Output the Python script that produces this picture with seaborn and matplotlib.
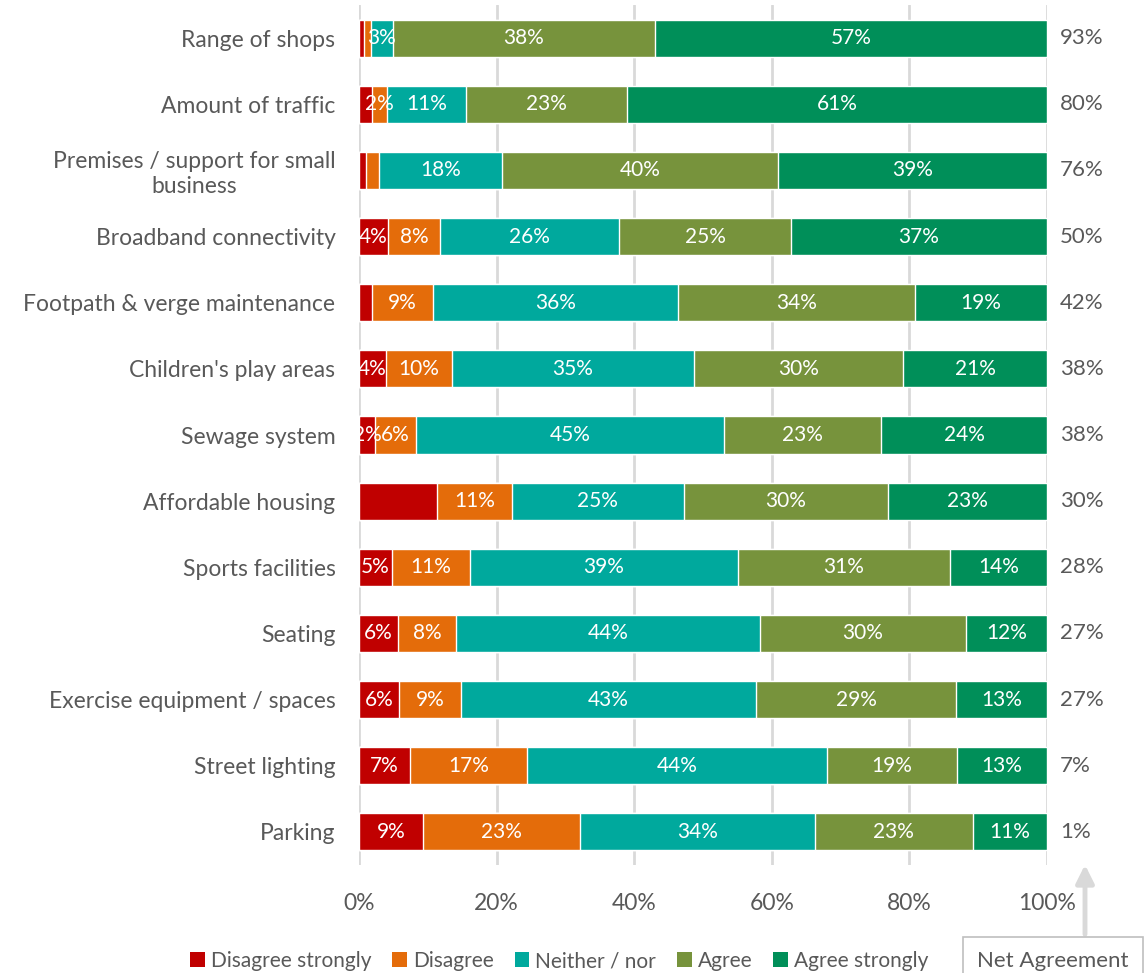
import matplotlib
matplotlib.use("Agg")
import matplotlib.pyplot as plt
from matplotlib.patches import Patch, Rectangle
import seaborn as sns
import pandas as pd
import numpy as np

items = ["Range of shops", "Amount of traffic", "Premises / support for small\nbusiness",
         "Broadband connectivity", "Footpath & verge maintenance", "Children's play areas",
         "Sewage system", "Affordable housing", "Sports facilities", "Seating",
         "Exercise equipment / spaces", "Street lighting", "Parking"]
responses = ["Disagree strongly", "Disagree", "Neither / nor", "Agree", "Agree strongly"]
disagree_strongly = [0.7, 1.9, 1.0, 4.2, 1.9, 3.9, 2.3, 11.3, 4.8, 5.7, 5.8, 7.4, 9.3]
disagree = [1.0, 2.2, 1.9, 7.6, 8.9, 9.6, 6.0, 10.9, 11.3, 8.4, 9.0, 17.0, 22.8]
neither = [3.2, 11.4, 17.9, 26.0, 35.6, 35.2, 44.8, 25.0, 39.0, 44.2, 42.9, 43.6, 34.2]
agree = [38.1, 23.4, 40.1, 25.0, 34.4, 30.4, 22.8, 29.7, 30.8, 29.9, 29.1, 18.9, 23.0]
agree_strongly = [57.0, 61.1, 39.1, 37.2, 19.2, 20.9, 24.1, 23.1, 14.1, 11.8, 13.2, 13.1, 10.8]
net_agreement = [93, 80, 76, 50, 42, 38, 38, 30, 28, 27, 27, 7, 1]
hidden_labels = [("Affordable housing", "Disagree strongly")]
colors = ["#C00000", "#E46C0A", "#00A99D", "#77933C", "#008F59"]
x_ticks = [0, 20, 40, 60, 80, 100]

series = [disagree_strongly, disagree, neither, agree, agree_strongly]
df = pd.DataFrame({r: v for r, v in zip(responses, series)}, index=items)
df = df.div(df.sum(axis=1), axis=0) * 100
cum = df.cumsum(axis=1)

sns.set_theme(style="white")
plt.rcParams["font.family"] = ["Lato", "DejaVu Sans"]
GRAY = "#595959"

fig = plt.figure(figsize=(11.47, 9.73), dpi=100)
ax = fig.add_axes([359 / 1147, 1 - 865 / 973, 688 / 1147, 860 / 973])

for r, c in reversed(list(zip(responses, colors))):
    d = pd.DataFrame({"item": items, "cum": cum[r].values})
    sns.barplot(data=d, x="cum", y="item", order=items, orient="h", color=c,
                width=0.56, saturation=1, ax=ax, zorder=3)

for i, it in enumerate(items):
    for r in responses:
        v = df.loc[it, r]
        if v < 2.0 or (it, r) in hidden_labels:
            continue
        xc = cum.loc[it, r] - v / 2
        ax.text(xc, i, f"{round(v):.0f}%", ha="center", va="center", color="white",
                fontsize=15, zorder=5)
    ax.text(101.9, i, f"{net_agreement[i]}%", ha="left", va="center", color=GRAY,
            fontsize=16, clip_on=False)

ax.set_xlim(0, 100)
ax.set_ylim(len(items) - 0.5, -0.5)
ax.set_xticks(x_ticks)
ax.set_xticklabels([f"{t}%" for t in x_ticks])
ax.set_xlabel("")
ax.set_ylabel("")
ax.xaxis.grid(True, color="#D9D9D9", linewidth=2, zorder=0)
ax.set_axisbelow(True)
for s in ax.spines.values():
    s.set_visible(False)
ax.tick_params(axis="x", length=0, pad=20, labelsize=16.5, labelcolor=GRAY)
ax.tick_params(axis="y", length=0, pad=17, labelsize=16.5, labelcolor=GRAY)
for lab in ax.get_yticklabels():
    lab.set_multialignment("center")

handles = [Patch(facecolor=c, edgecolor="none") for c in colors]
leg = fig.legend(handles, responses, loc="center left", bbox_to_anchor=(190 / 1147, 1 - 961 / 973),
                 ncol=5, frameon=False, fontsize=15, handlelength=0.7, handleheight=0.7,
                 handletextpad=0.3, columnspacing=1.0, borderaxespad=0, borderpad=0)
for t in leg.get_texts():
    t.set_color(GRAY)

fig.patches.append(Rectangle((963 / 1147, -0.02), 180 / 1147, (973 - 937) / 973 + 0.02,
                             transform=fig.transFigure, facecolor="white", edgecolor="#BFBFBF",
                             linewidth=1.2))
fig.text(1053 / 1147, 1 - 961 / 973, "Net Agreement", ha="center", va="center", color=GRAY,
         fontsize=16)
ax.annotate("", xy=(1085 / 1147, 1 - 862 / 973), xycoords="figure fraction",
            xytext=(1085 / 1147, 1 - 937 / 973), textcoords="figure fraction",
            arrowprops=dict(arrowstyle="-|>,head_width=0.45,head_length=0.9",
                            color="#D9D9D9", linewidth=3.5))

fig.savefig("out.png", dpi=100)
